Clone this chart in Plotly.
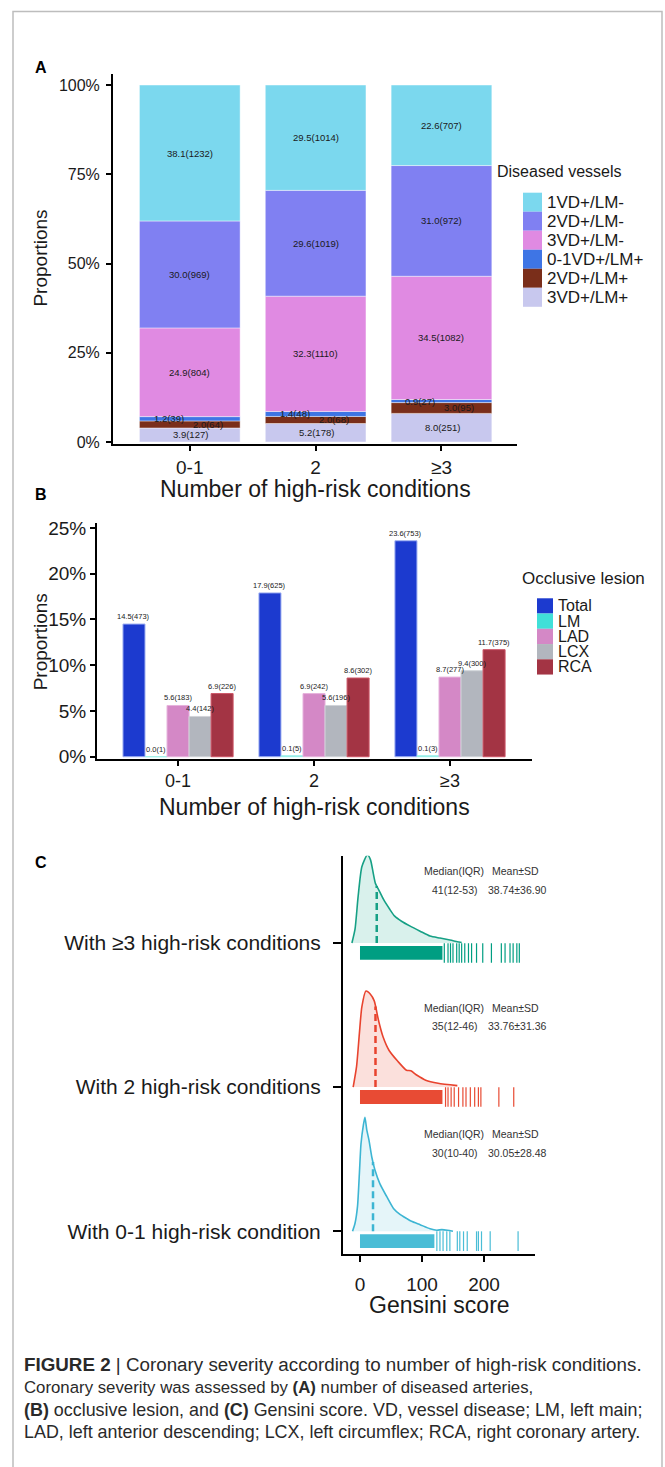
import numpy as np
import plotly.graph_objects as go

W, H = 665, 1467

# ---------------- Panel A data (bottom -> top of each stack) ----------------
groups = ["0-1", "2", "≥3"]
vessel_names = ["3VD+/LM+", "2VD+/LM+", "0-1VD+/LM+", "3VD+/LM-", "2VD+/LM-", "1VD+/LM-"]
pct_3vd_lmpos = [3.9, 5.2, 8.0]
n_3vd_lmpos = [127, 178, 251]
pct_2vd_lmpos = [2.0, 2.0, 3.0]
n_2vd_lmpos = [64, 68, 95]
pct_01vd_lmpos = [1.2, 1.4, 0.9]
n_01vd_lmpos = [39, 48, 27]
pct_3vd_lmneg = [24.9, 32.3, 34.5]
n_3vd_lmneg = [804, 1110, 1082]
pct_2vd_lmneg = [30.0, 29.6, 31.0]
n_2vd_lmneg = [969, 1019, 972]
pct_1vd_lmneg = [38.1, 29.5, 22.6]
n_1vd_lmneg = [1232, 1014, 707]
a_ticks = [0, 0.25, 0.5, 0.75, 1.0]
a_ticktext = ["0%", "25%", "50%", "75%", "100%"]

# ---------------- Panel B data ----------------
occl_names = ["Total", "LM", "LAD", "LCX", "RCA"]
pct_total = [14.5, 17.9, 23.6]
n_total = [473, 625, 753]
pct_lm = [0.0, 0.1, 0.1]
n_lm = [1, 5, 3]
pct_lad = [5.6, 6.9, 8.7]
n_lad = [183, 242, 277]
pct_lcx = [4.4, 5.6, 9.4]
n_lcx = [142, 196, 300]
pct_rca = [6.9, 8.6, 11.7]
n_rca = [226, 302, 375]
b_ticks = [0, 5, 10, 15, 20, 25]
b_ticktext = ["0%", "5%", "10%", "15%", "20%", "25%"]

# ---------------- Panel C data (ridge index 0 = bottom) ----------------
ridge_names = ["With 0-1 high-risk condition", "With 2 high-risk conditions", "With ≥3 high-risk conditions"]
dens_x_01 = [-12, -8, -4, -1, 1.6, 5.4, 8, 11, 14.5, 19, 24, 32, 43, 54, 64.5, 75, 83, 97, 113, 124, 132, 141, 150]
dens_h_01 = [0, .055, .172, .399, .605, .735, .790, .701, .632, .515, .426, .330, .241, .158, .117, .089, .069, .045, .017, .007, .011, .007, 0]
dens_x_2 = [-11, -5.5, -1, 3, 9.6, 16.5, 23, 30, 37, 47, 61, 75, 82, 92, 106, 126, 157]
dens_h_2 = [0, .144, .371, .557, .667, .646, .598, .460, .351, .254, .179, .117, .113, .082, .048, .027, .010]
dens_x_3 = [-13, -8, -3, 3, 12, 17, 21.5, 25, 30, 38, 48, 56, 67, 81, 97, 113, 129, 145, 164]
dens_h_3 = [0, .096, .323, .529, .612, .577, .481, .412, .371, .302, .234, .186, .151, .117, .082, .048, .034, .021, .003]
dash_x = [21, 25, 27]
rug_dense_max = [120, 133, 133]
rug_sparse_01 = [124, 129, 134, 140, 145, 157, 161, 167, 173, 188, 191, 196, 210, 255]
rug_sparse_2 = [138, 142, 147, 152, 159, 166, 171, 178, 185, 191, 195, 224, 248]
rug_sparse_3 = [136, 142, 146, 150, 156, 160, 164, 169, 175, 180, 188, 198, 212, 228, 234, 242, 247, 253, 257]
median_iqr = ["30(10-40)", "35(12-46)", "41(12-53)"]
mean_sd = ["30.05±28.48", "33.76±31.36", "38.74±36.90"]
c_ticks = [0, 100, 200]

# ---------------- styles ----------------
FONT = "Liberation Sans, Arial, sans-serif"
TXT = "#1a1a1a"
vessel_colors = ["#C8C8EE", "#7A2E1A", "#3E75E5", "#E08AE2", "#8080F2", "#7BD8EE"]
vessel_label_xshift = [1, 18, -21, 0, 0, 0]
occl_colors = ["#1C3ACF", "#40E0D8", "#D488C6", "#B2B6BE", "#A33444"]
occl_edges = ["#9FB0F2", "#9FF0EA", "#E6B2DC", "#D0D3D8", "#CC5566"]
ridge_line = ["#3DB5D3", "#E8432E", "#16A085"]
ridge_fill = ["rgba(74,185,212,0.14)", "rgba(232,71,47,0.17)", "rgba(0,160,128,0.15)"]
ridge_rug = ["#4ABDD6", "#E84B34", "#009E82"]


def X(px):
    return px / W


def Y(py):
    return 1 - py / H


def paper_text(px, py, text, size, color=TXT, xanchor="center", angle=0, bold=False):
    return dict(x=X(px), y=Y(py), xref="paper", yref="paper", xanchor=xanchor, yanchor="middle",
                text=f"<b>{text}</b>" if bold else text, showarrow=False, textangle=angle,
                font=dict(size=size, color=color, family=FONT))


fig = go.Figure()
ann = []
shapes = []

# ================= Panel A =================
a_n = [n_3vd_lmpos, n_2vd_lmpos, n_01vd_lmpos, n_3vd_lmneg, n_2vd_lmneg, n_1vd_lmneg]
a_p = [pct_3vd_lmpos, pct_2vd_lmpos, pct_01vd_lmpos, pct_3vd_lmneg, pct_2vd_lmneg, pct_1vd_lmneg]
totals = np.sum(np.array(a_n, dtype=float), axis=0)
cum = np.zeros(len(groups))
gx = np.arange(len(groups))
for name, nn, pp, col, xs in zip(vessel_names, a_n, a_p, vessel_colors, vessel_label_xshift):
    prop = np.array(nn, dtype=float) / totals
    fig.add_trace(go.Bar(x=gx, y=prop, base=cum.copy(), width=0.8, name=name,
                         marker=dict(color=col, line=dict(color="rgba(255,255,255,0.55)", width=0.8)),
                         xaxis="x", yaxis="y", showlegend=False))
    for i in range(len(groups)):
        ann.append(dict(x=gx[i], y=cum[i] + prop[i] / 2, xref="x", yref="y",
                        xanchor="center", yanchor="middle",
                        text=f"{pp[i]:.1f}({nn[i]})", showarrow=False, xshift=xs,
                        font=dict(size=9.5, color=TXT, family=FONT)))
    cum = cum + prop

# legend A (manual)
ann.append(paper_text(495, 168, "Diseased vessels", 16, xanchor="left"))
for k, (name, col) in enumerate(zip(vessel_names[::-1], vessel_colors[::-1])):
    top = 189.5 + 19.2 * k
    shapes.append(dict(type="rect", xref="paper", yref="paper", x0=X(523), x1=X(542),
                       y0=Y(top + 19.2), y1=Y(top), fillcolor=col, line=dict(width=0)))
    ann.append(paper_text(545, top + 9.6, name, 17, xanchor="left"))

# ================= Panel B =================
b_p = [pct_total, pct_lm, pct_lad, pct_lcx, pct_rca]
b_n = [n_total, n_lm, n_lad, n_lcx, n_rca]
bw = 0.162
for k, (name, pp, nn, col, ec) in enumerate(zip(occl_names, b_p, b_n, occl_colors, occl_edges)):
    off = -2.5 * bw + k * bw
    fig.add_trace(go.Bar(x=gx, y=pp, width=bw, offset=off, name=name,
                         marker=dict(color=col, line=dict(color=ec, width=1)),
                         xaxis="x2", yaxis="y2", showlegend=False))
    for i in range(len(groups)):
        ann.append(dict(x=gx[i] + off + bw / 2, y=pp[i], xref="x2", yref="y2",
                        xanchor="center", yanchor="bottom", yshift=1,
                        text=f"{pp[i]:.1f}({nn[i]})", showarrow=False,
                        font=dict(size=7.5, color=TXT, family=FONT)))

ann.append(paper_text(520, 579, "Occlusive lesion", 17, xanchor="left"))
for k, (name, col) in enumerate(zip(occl_names, occl_colors)):
    top = 599 + 15.4 * k
    shapes.append(dict(type="rect", xref="paper", yref="paper", x0=X(537), x1=X(553),
                       y0=Y(top + 15.4), y1=Y(top), fillcolor=col, line=dict(width=0)))
    ann.append(paper_text(556, top + 7.7, name, 16, xanchor="left"))

# ================= Panel C =================
dens_x = [dens_x_01, dens_x_2, dens_x_3]
dens_h = [dens_h_01, dens_h_2, dens_h_3]
rug_sparse = [rug_sparse_01, rug_sparse_2, rug_sparse_3]
rug_off = 0.069
rug_w = 0.096
for r in range(3):
    xs = list(dens_x[r])
    ys = [r + h for h in dens_h[r]]
    fig.add_trace(go.Scatter(x=xs + [xs[-1], xs[0]], y=ys + [r, r], fill="toself",
                             fillcolor=ridge_fill[r], line=dict(width=0), mode="lines",
                             xaxis="x3", yaxis="y3", showlegend=False, hoverinfo="skip"))
    fig.add_trace(go.Scatter(x=xs, y=ys, mode="lines",
                             line=dict(color=ridge_line[r], width=1.6, shape="spline", smoothing=0.6),
                             xaxis="x3", yaxis="y3", showlegend=False))
    dh = float(np.interp(dash_x[r], dens_x[r], dens_h[r]))
    fig.add_trace(go.Scatter(x=[dash_x[r], dash_x[r]], y=[r, r + dh], mode="lines",
                             line=dict(color=ridge_line[r], width=2.5, dash="7px,4px"),
                             xaxis="x3", yaxis="y3", showlegend=False))
    fig.add_trace(go.Bar(x=[rug_dense_max[r]], base=[0], y=[r - rug_off], width=[rug_w],
                         orientation="h", marker=dict(color=ridge_rug[r], line=dict(width=0)),
                         xaxis="x3", yaxis="y3", showlegend=False))
    fig.add_trace(go.Scatter(x=rug_sparse[r], y=[r - rug_off] * len(rug_sparse[r]), mode="markers",
                             marker=dict(symbol="line-ns", size=14,
                                         line=dict(color=ridge_rug[r], width=1.2)),
                             xaxis="x3", yaxis="y3", showlegend=False))
    peak = max(dens_h[r])
    row1 = r + peak - 0.115
    row2 = row1 - 0.13
    for (xv, yv, t) in [(151.6, row1, "Median(IQR)"), (251.6, row1, "Mean±SD"),
                        (152.5, row2, median_iqr[r]), (253.5, row2, mean_sd[r])]:
        ann.append(dict(x=xv, y=yv, xref="x3", yref="y3", xanchor="center", yanchor="middle",
                        text=t, showarrow=False,
                        font=dict(size=10.5, color="#333333", family=FONT)))

# ================= panel letters, axis titles, caption =================
for letter, py in [("A", 63), ("B", 494), ("C", 866)]:
    ann.append(paper_text(41, py, letter, 16, color="#000", bold=True))

ann += [
    paper_text(315, 489, "Number of high-risk conditions", 23),
    paper_text(41, 256, "Proportions", 19, angle=-90),
    paper_text(314, 810, "Number of high-risk conditions", 23),
    paper_text(40.5, 643, "Proportions", 19, angle=-90),
    paper_text(439, 1313, "Gensini score", 23),
]

caption = [
    "<b>FIGURE 2</b> | Coronary severity according to number of high-risk conditions.",
    "Coronary severity was assessed by <b>(A)</b> number of diseased arteries,",
    "<b>(B)</b> occlusive lesion, and <b>(C)</b> Gensini score. VD, vessel disease; LM, left main;",
    "LAD, left anterior descending; LCX, left circumflex; RCA, right coronary artery.",
]
caption_sizes = [18.8, 16.8, 17.9, 17.9]
for k, (line, sz) in enumerate(zip(caption, caption_sizes)):
    ann.append(paper_text(22, 1373 + 22.7 * k, line, sz, color="#2a2a2a", xanchor="left"))

# frame
shapes.append(dict(type="rect", xref="paper", yref="paper", x0=X(13), x1=X(662), y0=-0.01, y1=Y(6.5),
                   line=dict(color="#BDBDBD", width=1.5), fillcolor="rgba(0,0,0,0)"))

axis_common = dict(showline=True, linecolor="black", linewidth=2, ticks="outside", tickcolor="black",
                   tickwidth=2, showgrid=False, zeroline=False, fixedrange=True)

fig.update_layout(
    width=W, height=H, margin=dict(l=0, r=0, t=0, b=0), autosize=False,
    paper_bgcolor="white", plot_bgcolor="white", barmode="overlay", showlegend=False,
    font=dict(family=FONT, color=TXT),
    xaxis=dict(domain=[X(113), X(517)], range=[-0.61, 2.6], tickvals=list(gx), ticktext=groups,
               ticklen=5, tickfont=dict(size=19, color=TXT), anchor="y", ticklabelstandoff=0,
               **axis_common),
    yaxis=dict(domain=[Y(443), Y(70)], range=[-0.005, 1.03], tickvals=a_ticks, ticktext=a_ticktext,
               ticklen=5, tickfont=dict(size=16, color=TXT), anchor="x", ticklabelstandoff=3,
               **axis_common),
    xaxis2=dict(domain=[X(97), X(532)], range=[-0.596, 2.603], tickvals=list(gx), ticktext=groups,
                ticklen=5, tickfont=dict(size=18, color=TXT), anchor="y2", ticklabelstandoff=0,
                **axis_common),
    yaxis2=dict(domain=[Y(761), Y(523)], range=[-0.22, 25.54], tickvals=b_ticks, ticktext=b_ticktext,
                ticklen=5, tickfont=dict(size=19, color=TXT), anchor="x2", ticklabelstandoff=0,
                **axis_common),
    xaxis3=dict(domain=[X(343), X(535)], range=[-27.4, 282.3], tickvals=c_ticks,
                ticklen=6, tickfont=dict(size=19, color=TXT), anchor="y3", ticklabelstandoff=6,
                **axis_common),
    yaxis3=dict(domain=[Y(1261), Y(859)], range=[-0.158, 2.605], tickvals=[0, 1, 2],
                ticktext=ridge_names, ticklen=8, tickfont=dict(size=21, color=TXT), anchor="x3",
                ticklabelstandoff=8, **axis_common),
    annotations=ann, shapes=shapes,
)

fig.write_html("out.html")
